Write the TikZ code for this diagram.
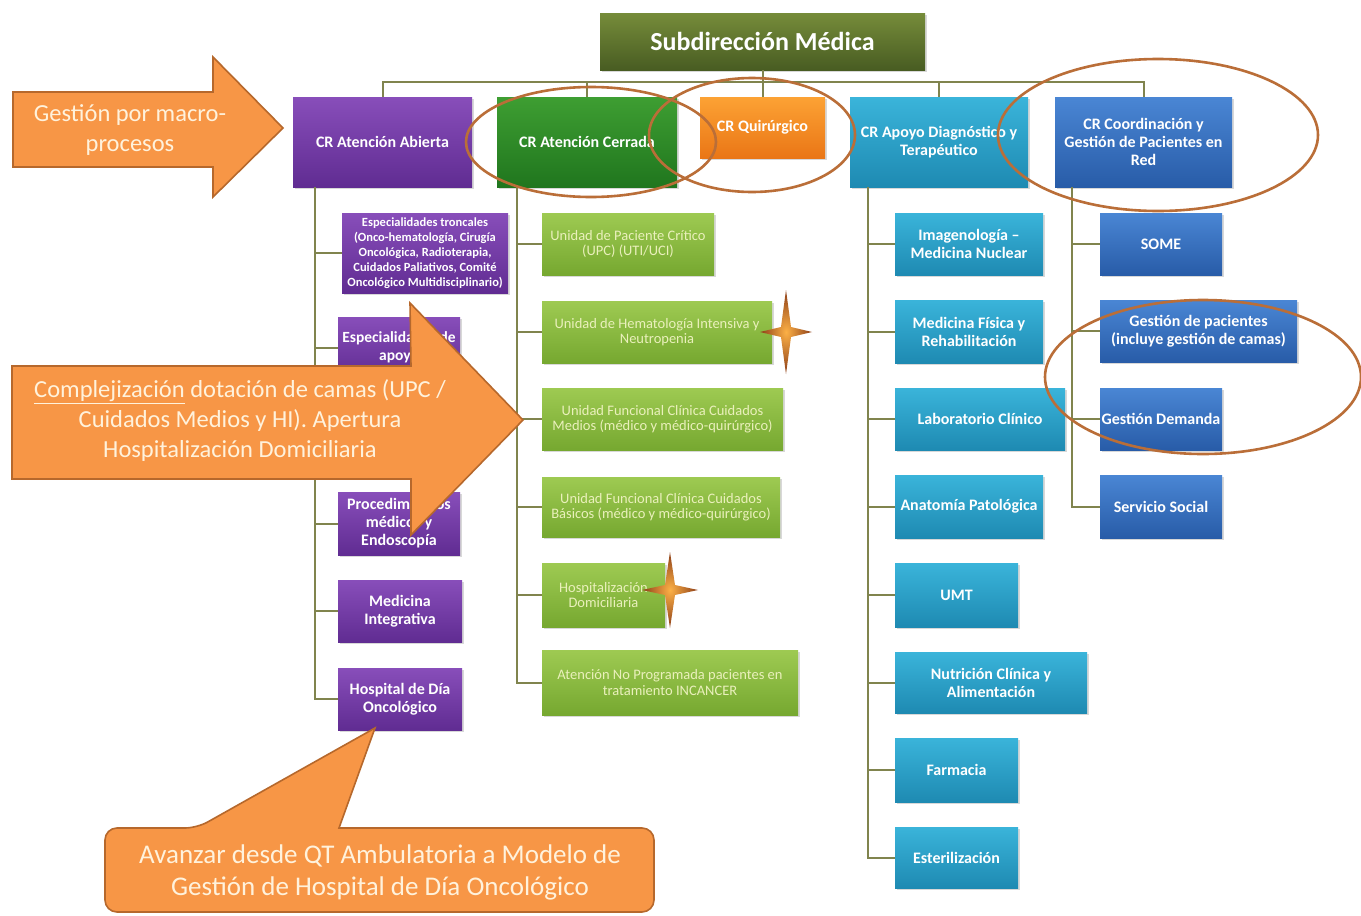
\documentclass[tikz,border=0pt]{standalone}
\usepackage{fontspec}
\setmainfont{Carlito}
\usetikzlibrary{positioning,shadows}
\definecolor{linkol}{RGB}{128,132,78}
\definecolor{olivetop}{RGB}{118,140,58}
\definecolor{olivebot}{RGB}{72,92,34}
\definecolor{purptop}{RGB}{136,78,186}
\definecolor{purpbot}{RGB}{96,44,146}
\definecolor{greentop}{RGB}{62,158,50}
\definecolor{greenbot}{RGB}{32,118,30}
\definecolor{limetop}{RGB}{158,202,82}
\definecolor{limebot}{RGB}{118,168,48}
\definecolor{limetext}{RGB}{234,240,188}
\definecolor{orangetop}{RGB}{252,162,52}
\definecolor{orangebot}{RGB}{234,118,22}
\definecolor{cyantop}{RGB}{58,180,218}
\definecolor{cyanbot}{RGB}{30,138,178}
\definecolor{bluetop}{RGB}{74,134,212}
\definecolor{bluebot}{RGB}{40,92,168}
\definecolor{calfill}{RGB}{247,150,70}
\definecolor{caledge}{RGB}{182,104,44}
\definecolor{caltext}{RGB}{255,242,220}
\definecolor{ringbr}{RGB}{186,110,56}
\definecolor{sparkin}{RGB}{252,176,70}
\definecolor{sparkout}{RGB}{140,62,24}
\newcommand{\starHemato}{(786,290) -- (791,327) -- (812,332) -- (791,337) -- (786,374) -- (781,337) -- (760,332) -- (781,327) -- cycle}
\newcommand{\starHdom}{(670,552) -- (675,585) -- (698,590) -- (675,595) -- (670,628) -- (665,595) -- (642,590) -- (665,585) -- cycle}

\tikzset{
  box/.style={rectangle, align=center, text=white, inner sep=1pt,
    font=\bfseries\fontsize{16}{18}\selectfont,
    drop shadow={opacity=0.3,shadow xshift=1.5pt,shadow yshift=-2pt}},
  headbox/.style={box, top color=olivetop, bottom color=olivebot,
    font=\bfseries\fontsize{26}{30}\selectfont},
  purplebox/.style={box, top color=purptop, bottom color=purpbot},
  greenbox/.style={box, top color=greentop, bottom color=greenbot},
  limebox/.style={box, top color=limetop, bottom color=limebot, text=limetext,
    font=\fontsize{14.5}{15.5}\selectfont},
  orangebox/.style={box, top color=orangetop, bottom color=orangebot},
  cyanbox/.style={box, top color=cyantop, bottom color=cyanbot},
  bluebox/.style={box, top color=bluetop, bottom color=bluebot},
  link/.style={draw=linkol, line width=2pt},
  ring/.style={draw=ringbr, line width=2.6pt},
  callout/.style={fill=calfill, draw=caledge, line width=1.6pt},
  calltext/.style={text=caltext, align=center},
}

\begin{document}
\begin{tikzpicture}[x=1pt,y=-1pt]
  \useasboundingbox[fill=white] (0,0) rectangle (1361,916);
  % top level
  \node[headbox, minimum width=325pt, minimum height=57pt] (sub) at (762.5,41.5) {Subdirección Médica};
  \node[purplebox, minimum width=179pt, minimum height=90pt] (abierta) at (382.5,142) {CR Atención Abierta};
  \node[greenbox, minimum width=180pt, minimum height=90pt] (cerrada) at (587,142) {CR Atención Cerrada};
  \node[orangebox, minimum width=125pt, minimum height=61pt] (quir) at (762.5,127.5) {CR Quirúrgico};
  \node[cyanbox, minimum width=178pt, minimum height=90pt] (apoyo) at (939,142) {CR Apoyo Diagnóstico y\\Terapéutico};
  \node[bluebox, minimum width=177pt, minimum height=90pt] (coord) at (1143.5,142) {CR Coordinación y\\Gestión de Pacientes en\\Red};
  \coordinate (bus) at (762.5,82);
  \draw[link] (sub.south) -- (bus);
  \foreach \n in {abierta,cerrada,quir,apoyo,coord}
    \draw[link] (\n.north) |- (bus);

  % atencion abierta
  \node[purplebox, minimum width=166pt, minimum height=80pt, font=\bfseries\fontsize{12.5}{15}\selectfont] (troncales) at (425,253)
    {Especialidades troncales\\(Onco-hematología, Cirugía\\Oncológica, Radioterapia,\\Cuidados Paliativos, Comité\\Oncológico Multidisciplinario)};
  \node[purplebox, minimum width=122pt, minimum height=61pt, font=\bfseries\fontsize{15.5}{18}\selectfont] (apoyoesp) at (399,347.5) {Especialidades de\\apoyo};
  \node[purplebox, minimum width=122pt, minimum height=63pt] (proced) at (399,523.5) {Procedimientos\\médicos y\\Endoscopía};
  \node[purplebox, minimum width=124pt, minimum height=62pt] (integ) at (400,611) {Medicina\\Integrativa};
  \node[purplebox, minimum width=124pt, minimum height=62pt] (hdia) at (400,699) {Hospital de Día\\Oncológico};
  \coordinate (spA) at ([xshift=22pt]abierta.south west);
  \foreach \n in {troncales,apoyoesp,proced,integ,hdia}
    \draw[link] (spA) |- (\n.west);

  % atencion cerrada
  \node[limebox, minimum width=172pt, minimum height=62pt] (upc) at (628,244) {Unidad de Paciente Crítico\\(UPC) (UTI/UCI)};
  \node[limebox, minimum width=230pt, minimum height=62pt] (hemato) at (657,332) {Unidad de Hematología Intensiva y\\Neutropenia};
  \node[limebox, minimum width=241pt, minimum height=62pt] (medios) at (662.5,419) {Unidad Funcional Clínica Cuidados\\Medios (médico y médico-quirúrgico)};
  \node[limebox, minimum width=238pt, minimum height=60pt] (basicos) at (661,507) {Unidad Funcional Clínica Cuidados\\Básicos (médico y médico-quirúrgico)};
  \node[limebox, minimum width=123pt, minimum height=64pt] (hdom) at (603.5,595) {Hospitalización\\Domiciliaria};
  \node[limebox, minimum width=256pt, minimum height=65pt] (noprog) at (670,682.5) {Atención No Programada pacientes en\\tratamiento INCANCER};
  \coordinate (spC) at ([xshift=20pt]cerrada.south west);
  \foreach \n in {upc,hemato,medios,basicos,hdom,noprog}
    \draw[link] (spC) |- (\n.west);

  % apoyo diagnostico
  \node[cyanbox, minimum width=148pt, minimum height=62pt] (imag) at (969,244) {Imagenología –\\Medicina Nuclear};
  \node[cyanbox, minimum width=148pt, minimum height=63pt] (fisica) at (969,331.5) {Medicina Física y\\Rehabilitación};
  \node[cyanbox, minimum width=170pt, minimum height=62pt] (lab) at (980,419) {Laboratorio Clínico};
  \node[cyanbox, minimum width=148pt, minimum height=63pt] (anat) at (969,506.5) {Anatomía Patológica};
  \node[cyanbox, minimum width=123pt, minimum height=64pt] (umt) at (956.5,595) {UMT};
  \node[cyanbox, minimum width=192pt, minimum height=61pt] (nutri) at (991,682.5) {Nutrición Clínica y\\Alimentación};
  \node[cyanbox, minimum width=123pt, minimum height=64pt] (farm) at (956.5,770) {Farmacia};
  \node[cyanbox, minimum width=123pt, minimum height=61pt] (ester) at (956.5,857.5) {Esterilización};
  \coordinate (spD) at ([xshift=18pt]apoyo.south west);
  \foreach \n in {imag,fisica,lab,anat,umt,nutri,farm,ester}
    \draw[link] (spD) |- (\n.west);

  % coordinacion
  \node[bluebox, minimum width=122pt, minimum height=62pt] (some) at (1161,244) {SOME};
  \node[bluebox, minimum width=197pt, minimum height=62pt] (gpac) at (1198.5,331) {Gestión de pacientes\\(incluye gestión de camas)};
  \node[bluebox, minimum width=122pt, minimum height=62pt] (gdem) at (1161,419) {Gestión Demanda};
  \node[bluebox, minimum width=122pt, minimum height=63pt] (ssoc) at (1161,506.5) {Servicio Social};
  \coordinate (spR) at ([xshift=17pt]coord.south west);
  \foreach \n in {some,gpac,gdem,ssoc}
    \draw[link] (spR) |- (\n.west);

  % highlight rings and sparkles
  \draw[ring] (591,142) ellipse (125 and 55);
  \draw[ring] (752,135) ellipse (103 and 57);
  \draw[ring] (1158,135) ellipse (160 and 76);
  \draw[ring] (1203,377) ellipse (158 and 77);
  \shade[inner color=sparkin, outer color=sparkout] \starHemato;
  \shade[inner color=sparkin, outer color=sparkout] \starHdom;

  % orange notes
  \path[callout] (13,92) -- (213,92) -- (213,57) -- (283,128) -- (213,197) -- (213,167) -- (13,167) -- cycle;
  \node[calltext, font=\fontsize{24.5}{30}\selectfont] (macro) at (130,130) {Gestión por macro-\\procesos};
  \path[callout] (12,366) -- (411,366) -- (410,303) -- (523,420) -- (411,535) -- (411,479) -- (12,479) -- cycle;
  \node[calltext, font=\fontsize{24.5}{30}\selectfont] (camas) at (240,421)
    {\underline{Complejización} dotación de camas (UPC /\\Cuidados Medios y HI). Apertura\\Hospitalización Domiciliaria};
  \path[callout] (105,870) [rounded corners=12pt] -- (105,828) -- (197,828) [sharp corners] -- (375,728) -- (339,828)
    [rounded corners=12pt] -- (654,828) -- (654,912) -- (105,912) -- cycle;
  \node[calltext, font=\fontsize{27}{32}\selectfont] (hdnote) at (380,872)
    {Avanzar desde QT Ambulatoria a Modelo de\\Gestión de Hospital de Día Oncológico};
\end{tikzpicture}
\end{document}
